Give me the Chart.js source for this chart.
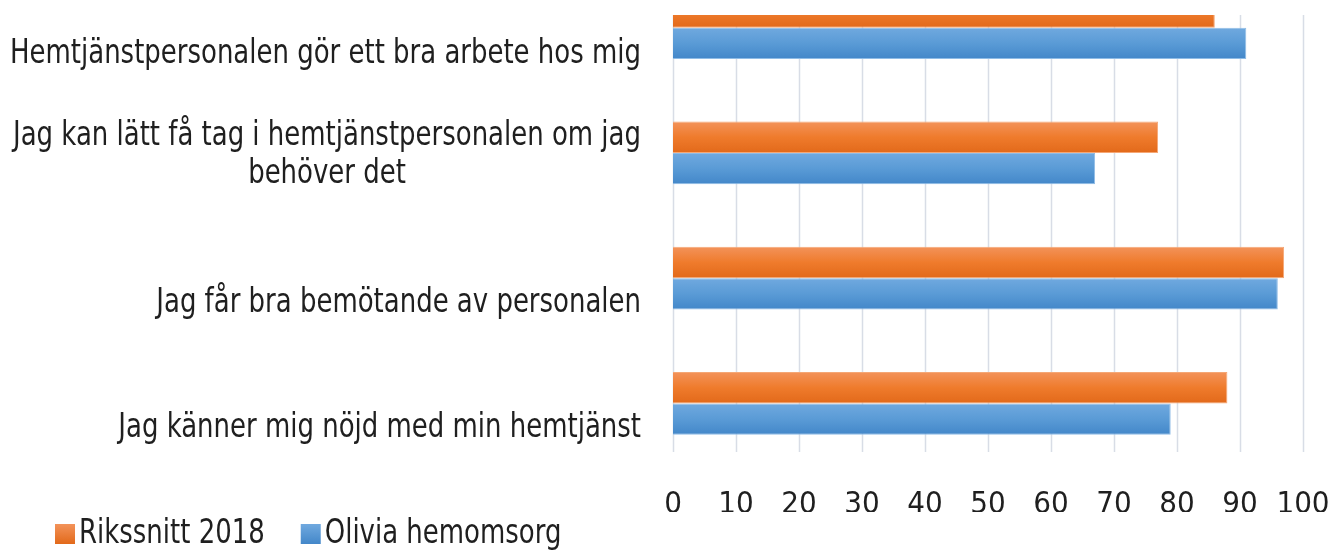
<!DOCTYPE html>
<html>
<head>
<meta charset="utf-8">
<script src="https://cdn.jsdelivr.net/npm/chart.js@4"></script>
<style>
  html, body { margin: 0; padding: 0; background: #fff; }
  #wrap { position: absolute; left: 0; top: 15px; width: 1334px; height: 537px; overflow: hidden; }
  #survey { position: absolute; left: 0; top: -50px; }
</style>
</head>
<body>
<div id="wrap"><canvas id="survey" width="1334" height="587"></canvas></div>
<script>
// categories, top to bottom
var categories = [
    'Hemtjänstpersonalen gör ett bra arbete hos mig',
    ['Jag kan lätt få tag i hemtjänstpersonalen om jag', 'behöver det'],
    'Jag får bra bemötande av personalen',
    'Jag känner mig nöjd med min hemtjänst'
];
var seriesNames = ['Rikssnitt 2018', 'Olivia hemomsorg'];
var rikssnitt = [86, 77, 97, 88];
var olivia = [91, 67, 96, 79];
var xMin = 0, xMax = 100, xStep = 10;

var FONT = '"Liberation Sans Narrow", "DejaVu Sans Condensed", sans-serif';
var TEXT = '#1f1f1f';
var CAT_PCT = 0.5;

// office-like shaded fills
var orangeStops = ['#f3935a', '#ef7b2c', '#e2691a'];
var blueStops = ['#70a9df', '#5a9bd6', '#4387c9'];

function barFill(stops) {
    return function (ctx) {
        var chart = ctx.chart;
        var y = chart.scales.y;
        if (!chart.chartArea || !y || ctx.dataIndex === undefined) return stops[1];
        var band = y.height / categories.length;
        var thick = band * CAT_PCT / 2;
        var c = y.getPixelForValue(ctx.dataIndex);
        var top = ctx.datasetIndex === 0 ? c - thick : c;
        var g = chart.ctx.createLinearGradient(0, top, 0, top + thick);
        g.addColorStop(0, stops[0]);
        g.addColorStop(0.5, stops[1]);
        g.addColorStop(1, stops[2]);
        return g;
    };
}

// the source font is a narrow one; squeeze our text to the same width
var squeeze = 1;
function fitSqueeze(ctx) {
    ctx.save();
    ctx.font = '33px ' + FONT;
    squeeze = Math.min(1, 631 / ctx.measureText(categories[0]).width);
    ctx.restore();
}

// vertical gridlines, stopped a little above the tick labels
var gridPlugin = {
    id: 'grid',
    beforeDatasetsDraw: function (chart) {
        var ctx = chart.ctx, x = chart.scales.x;
        ctx.save();
        ctx.strokeStyle = '#d8dde6';
        ctx.lineWidth = 1.5;
        x.ticks.forEach(function (t) {
            var px = Math.round(x.getPixelForValue(t.value)) + 0.5;
            ctx.beginPath();
            ctx.moveTo(px, chart.chartArea.top);
            ctx.lineTo(px, 487);
            ctx.stroke();
        });
        ctx.restore();
    }
};

// category labels, multi-line ones centred as a block
var labelPlugin = {
    id: 'catLabels',
    afterDraw: function (chart) {
        var ctx = chart.ctx, y = chart.scales.y;
        var right = 641;
        fitSqueeze(ctx);
        ctx.save();
        ctx.font = '33px ' + FONT;
        ctx.fillStyle = TEXT;
        ctx.textBaseline = 'middle';
        ctx.textAlign = 'center';
        categories.forEach(function (lab, i) {
            var c = y.getPixelForValue(i);
            var lines = Array.isArray(lab) ? lab : [lab];
            var w = squeeze * Math.max.apply(null, lines.map(function (l) { return ctx.measureText(l).width; }));
            var cx = right - w / 2;
            var ys = lines.length === 1 ? [c + (i === 0 ? 27 : 25)] : [c - 16, c + 22];
            lines.forEach(function (l, k) {
                ctx.save();
                ctx.translate(cx, ys[k]);
                ctx.scale(squeeze, 1);
                ctx.fillText(l, 0, 0);
                ctx.restore();
            });
        });
        ctx.restore();
    }
};

// legend drawn by hand to get the tight box/text gap
var legendPlugin = {
    id: 'legendRow',
    afterDraw: function (chart) {
        var ctx = chart.ctx;
        var x = 55, cy = 569, box = 20;
        ctx.save();
        ctx.font = '33px ' + FONT;
        ctx.textBaseline = 'middle';
        ctx.textAlign = 'left';
        chart.data.datasets.forEach(function (ds, i) {
            var stops = i === 0 ? orangeStops : blueStops;
            var g = ctx.createLinearGradient(0, cy - box / 2, 0, cy + box / 2);
            g.addColorStop(0, stops[0]);
            g.addColorStop(1, stops[2]);
            ctx.fillStyle = g;
            ctx.fillRect(x, cy - box / 2, box, box);
            ctx.fillStyle = TEXT;
            ctx.save();
            ctx.translate(x + box + 4, cy);
            ctx.scale(squeeze, 1);
            ctx.fillText(ds.label, 0, 0);
            ctx.restore();
            x += box + 4 + squeeze * ctx.measureText(ds.label).width + 36;
        });
        ctx.restore();
    }
};

var chart = document.getElementById('survey').getContext('2d');

var surveyChart = new Chart(chart, {
    type: 'bar',
    data: {
        labels: categories,
        datasets: [
            {
                label: seriesNames[0],
                data: rikssnitt,
                backgroundColor: barFill(orangeStops),
                borderColor: '#f5a775',
                borderWidth: 1,
                categoryPercentage: CAT_PCT,
                barPercentage: 1.0
            },
            {
                label: seriesNames[1],
                data: olivia,
                backgroundColor: barFill(blueStops),
                borderColor: '#8fbce6',
                borderWidth: 1,
                categoryPercentage: CAT_PCT,
                barPercentage: 1.0
            }
        ]
    },
    options: {
        indexAxis: 'y',
        responsive: false,
        animation: false,
        layout: { padding: { left: 673, right: 31, top: 0, bottom: 40 } },
        plugins: {
            legend: { display: false },
            tooltip: { enabled: false }
        },
        scales: {
            y: { display: false },
            x: {
                min: xMin,
                max: xMax,
                grid: { display: false },
                border: { display: false },
                ticks: {
                    stepSize: xStep,
                    padding: 12,
                    minRotation: 0,
                    maxRotation: 0,
                    autoSkip: false,
                    color: TEXT,
                    font: { family: FONT, size: 31 }
                },
                afterFit: function (scale) {
                    scale.height = 46;
                    scale.paddingLeft = 0;
                    scale.paddingRight = 0;
                }
            }
        }
    },
    plugins: [gridPlugin, labelPlugin, legendPlugin]
});
</script>
</body>
</html>
